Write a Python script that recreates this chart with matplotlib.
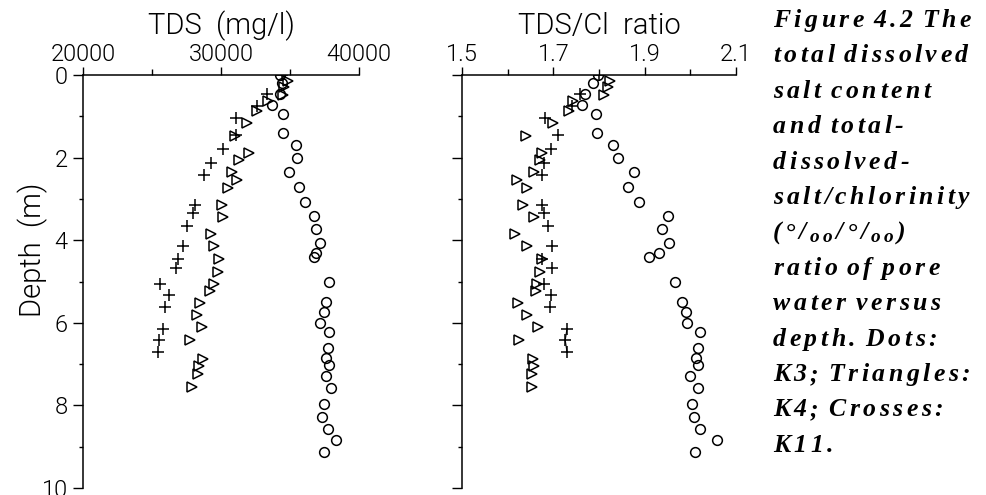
import matplotlib
matplotlib.use("Agg")
import matplotlib.pyplot as plt
from matplotlib.ticker import MultipleLocator

# ---- data: pore water profiles (depth in m) ----
k3_depth = [0.0, 0.2, 0.45, 0.72, 0.95, 1.4, 1.7, 2.0, 2.35, 2.7, 3.07, 3.41, 3.72,
            4.06, 4.3, 4.4, 5.0, 5.5, 5.74, 6.01, 6.22, 6.6, 6.86, 7.01, 7.29, 7.59,
            7.97, 8.27, 8.57, 8.84, 9.13]
k3_tds = [34300, 34400, 34300, 33700, 34500, 34500, 35400, 35500, 34900, 35650, 36100,
          36750, 36900, 37200, 36900, 36750, 37850, 37600, 37450, 37200, 37800, 37750,
          37600, 37800, 37600, 37950, 37450, 37300, 37750, 38300, 37500]
k3_ratio = [1.798, 1.787, 1.769, 1.763, 1.793, 1.795, 1.831, 1.842, 1.877, 1.864, 1.888,
            1.951, 1.938, 1.953, 1.931, 1.909, 1.966, 1.982, 1.991, 1.993, 2.021, 2.017,
            2.012, 2.017, 2.000, 2.017, 2.004, 2.008, 2.021, 2.059, 2.010]

k4_depth = [0.15, 0.3, 0.48, 0.63, 0.86, 1.16, 1.47, 1.88, 2.06, 2.34, 2.54, 2.74, 3.15,
            3.44, 3.86, 4.14, 4.45, 4.77, 5.07, 5.24, 5.53, 5.8, 6.1, 6.41, 6.87, 7.05,
            7.23, 7.56]
k4_tds = [34850, 34560, 34490, 33400, 32610, 31880, 30980, 32030, 31300, 30830, 31160,
          30510, 30040, 30140, 29270, 29490, 29890, 29780, 29490, 29200, 28480, 28260,
          28620, 27750, 28700, 28410, 28330, 27900]
k4_ratio = [1.824, 1.820, 1.812, 1.743, 1.734, 1.699, 1.641, 1.675, 1.671, 1.658, 1.620,
            1.642, 1.634, 1.658, 1.616, 1.642, 1.675, 1.671, 1.664, 1.662, 1.623, 1.642,
            1.666, 1.625, 1.655, 1.658, 1.653, 1.653]

k11_depth = [0.0, 0.45, 0.76, 1.05, 1.46, 1.78, 2.12, 2.43, 3.14, 3.35, 3.65, 4.14, 4.45,
             4.67, 5.07, 5.33, 5.62, 6.14, 6.42, 6.71]
k11_tds = [34400, 33330, 32610, 31090, 31090, 30180, 29240, 28800, 28080, 27970, 27570,
           27250, 26850, 26740, 25580, 26200, 25940, 25800, 25540, 25400]
k11_ratio = [1.800, 1.758, 1.741, 1.682, 1.710, 1.695, 1.680, 1.675, 1.675, 1.680, 1.688,
             1.697, 1.675, 1.697, 1.680, 1.695, 1.693, 1.730, 1.726, 1.730]

tds_ticks = [20000, 30000, 40000]
ratio_ticks = [1.5, 1.7, 1.9, 2.1]
depth_ticks = [0, 2, 4, 6, 8, 10]

caption = [
    [("Figure 4.2 The", False)],
    [("total dissolved", False)],
    [("salt content", False)],
    [("and total-", False)],
    [("dissolved-", False)],
    [("salt/chlorinity", False)],
    [("(\u00b0/", False), ("oo", True), ("/\u00b0/", False), ("oo", True), (")", False)],
    [("ratio of pore", False)],
    [("water versus", False)],
    [("depth. Dots:", False)],
    [("K3; Triangles:", False)],
    [("K4; Crosses:", False)],
    [("K11.", False)],
]

# ---- figure ----
W, H = 987, 495
fig = plt.figure(figsize=(W / 100, H / 100), dpi=100)
sans = ["Roboto", "DejaVu Sans"]
tick_font = dict(family=sans, size=17, weight=300, color="black")


def px_rect(x0, x1, y0, y1):
    return [x0 / W, 1 - y1 / H, (x1 - x0) / W, (y1 - y0) / H]


ax1 = fig.add_axes(px_rect(83, 359, 75, 488))
ax2 = fig.add_axes(px_rect(462, 736, 75, 488))

mk = dict(linestyle="none", color="black", markerfacecolor="none")
for ax, k3x, k4x, k11x in ((ax1, k3_tds, k4_tds, k11_tds),
                           (ax2, k3_ratio, k4_ratio, k11_ratio)):
    ax.plot(k3x, k3_depth, marker="o", markersize=7, markeredgewidth=1.1, **mk)
    ax.plot(k4x, k4_depth, marker=">", markersize=7, markeredgewidth=1.1, **mk)
    ax.plot(k11x, k11_depth, marker="+", markersize=8.5, markeredgewidth=1.1, **mk)

# short joining stroke through the deepest K11 ratio samples
ax2.plot(k11_ratio[-3:], k11_depth[-3:], color="black", lw=0.8)

for ax in (ax1, ax2):
    ax.set_ylim(10, 0)
    ax.spines["right"].set_visible(False)
    ax.spines["bottom"].set_visible(False)
    ax.spines["left"].set_linewidth(1.1)
    ax.spines["top"].set_linewidth(1.1)
    ax.xaxis.tick_top()
    ax.set_yticks(depth_ticks)
    ax.yaxis.set_minor_locator(MultipleLocator(1))
    ax.tick_params(axis="y", which="major", direction="out", length=7, width=1.0, pad=4)
    ax.tick_params(axis="y", which="minor", direction="out", length=3, width=1.0)
    ax.tick_params(axis="x", which="major", direction="out", length=5.5, width=1.0, pad=1)
    ax.tick_params(axis="x", which="minor", direction="out", length=4, width=1.0)
    ax.set_facecolor("none")

ax1.set_xlim(20000, 40000)
ax1.set_xticks(tds_ticks)
ax1.xaxis.set_minor_locator(MultipleLocator(5000))
ax1.set_xticklabels([str(v) for v in tds_ticks], fontdict=tick_font)
ax1.set_yticklabels([str(v) for v in depth_ticks], fontdict=tick_font)

ax2.set_xlim(1.5, 2.1)
ax2.set_xticks(ratio_ticks)
ax2.xaxis.set_minor_locator(MultipleLocator(0.1))
ax2.set_xticklabels([f"{v:.1f}" for v in ratio_ticks], fontdict=tick_font)
ax2.set_yticklabels([])

title_font = dict(family=sans, size=21, weight=300, color="black")
fig.text((83 + 359) / 2 / W, 1 - 26 / H, "TDS  (mg/l)", ha="center", va="center", **title_font)
fig.text((462 + 736) / 2 / W, 1 - 26 / H, "TDS/Cl  ratio", ha="center", va="center", **title_font)
fig.text(33 / W, 1 - 250 / H, "Depth  (m)", rotation=90, ha="center", va="center", **title_font)

# ---- caption, set with wide letter spacing ----
renderer = fig.canvas.get_renderer()
cap_font = dict(family="Liberation Serif", weight="bold", style="italic", color="black")
cap_size = 18.5
track = 3.5
space_w = 6.5
x_left = 773
y_first = 18
line_step = 35.4
for i, segments in enumerate(caption):
    y = y_first + i * line_step
    x = x_left
    for seg, sub in segments:
        size = cap_size * (0.75 if sub else 1.0)
        dy = 5 if sub else 0
        for ch in seg:
            if ch == " ":
                x += space_w
                continue
            t = fig.text(x / W, 1 - (y + dy) / H, ch, ha="left", va="center_baseline",
                         fontsize=size, **cap_font)
            x += t.get_window_extent(renderer).width + track

fig.savefig("out.png", dpi=100)
